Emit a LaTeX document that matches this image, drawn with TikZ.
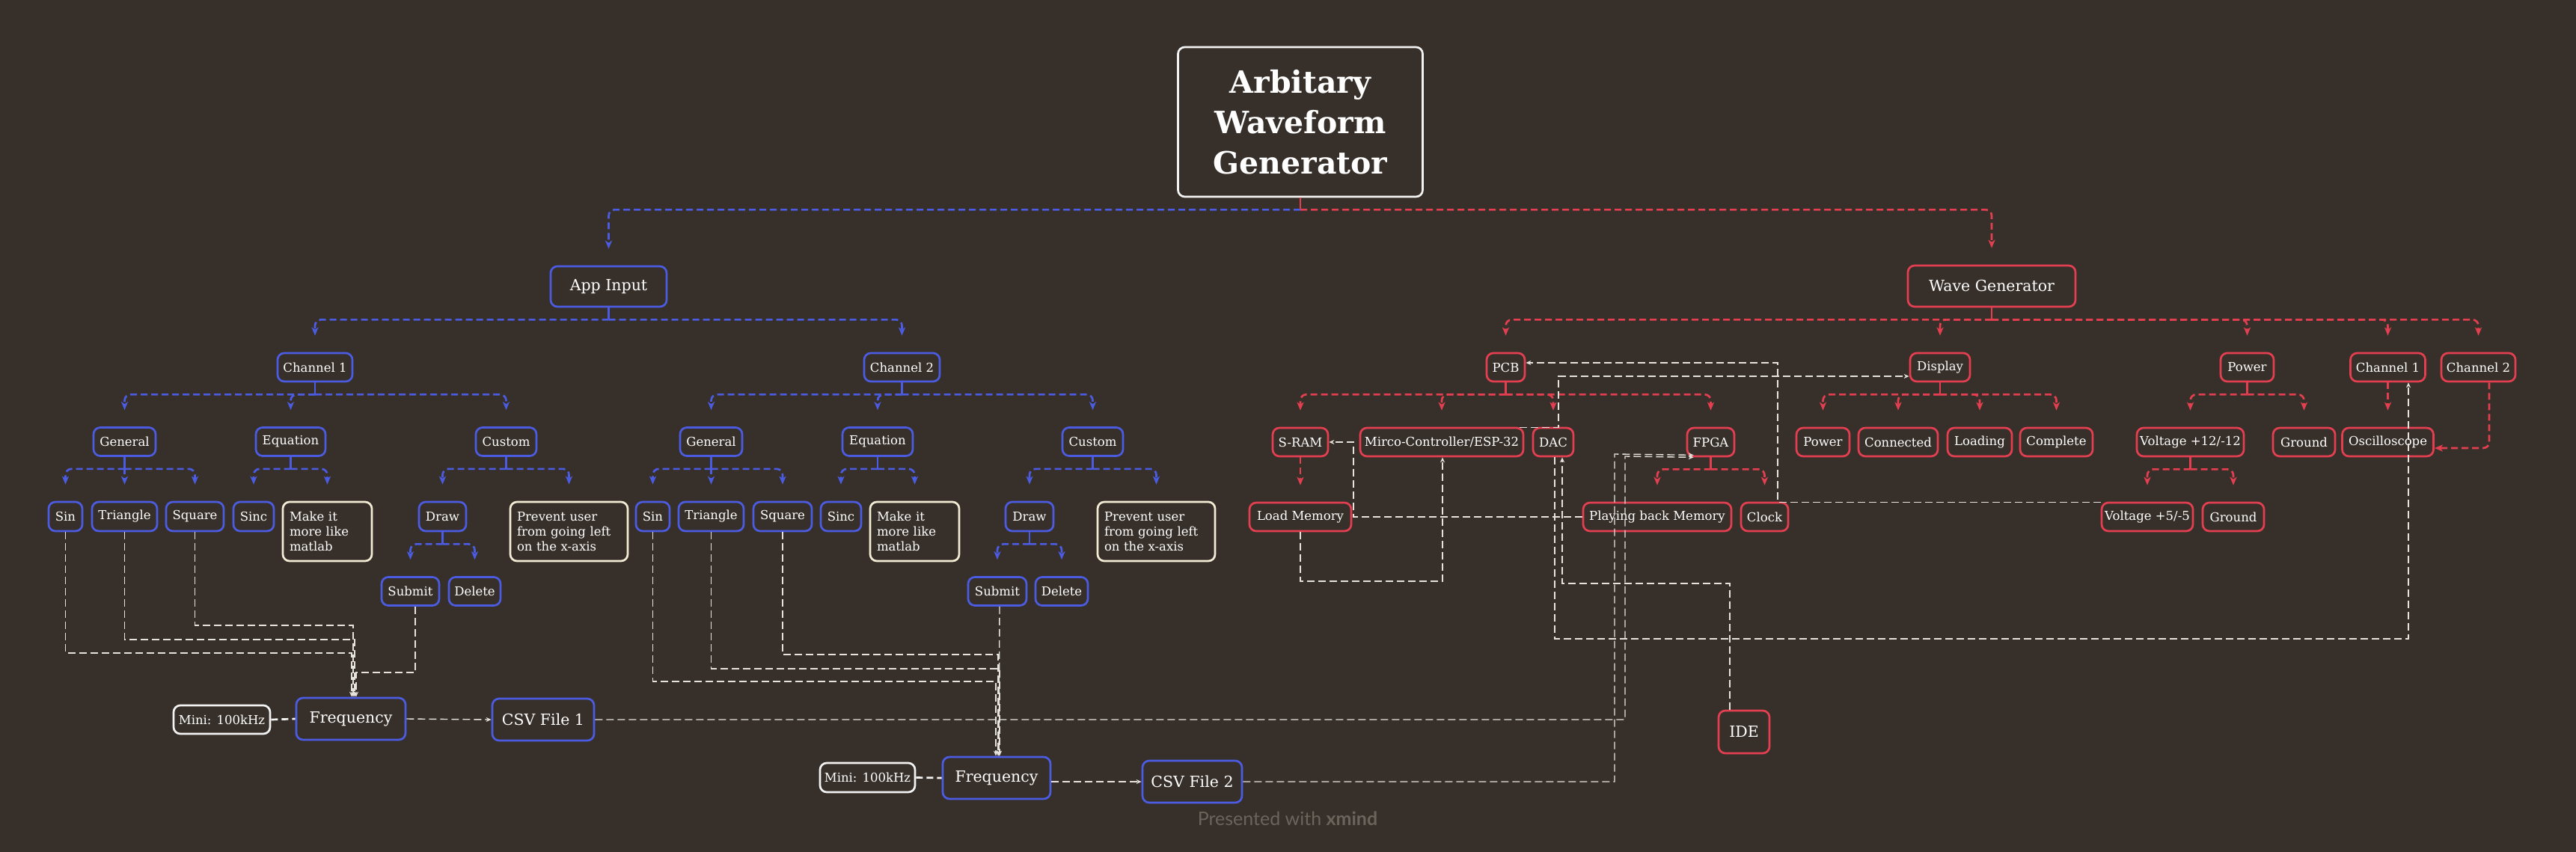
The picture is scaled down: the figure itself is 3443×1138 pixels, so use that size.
\documentclass[tikz,border=0pt]{standalone}
\usepackage{fontspec}
\setmainfont{DejaVu Serif}
\newfontfamily\wmfont{Lato}
\usetikzlibrary{arrows.meta,calc}
\definecolor{bgc}{HTML}{37302A}
\definecolor{bluec}{HTML}{4B5CE2}
\definecolor{redc}{HTML}{E33F50}
\definecolor{creamc}{HTML}{F3ECD4}
\definecolor{whitec}{HTML}{F2F2F2}
\definecolor{relc}{HTML}{E6E3DE}
\definecolor{txtc}{HTML}{FFFFFF}
\definecolor{wmc}{HTML}{6A645B}
\tikzset{
  box/.style={draw, line width=2.7pt, rounded corners=9pt, fill=bgc, text=txtc,
    inner sep=0pt, align=center, font=\fontsize{16.5}{20}\selectfont},
  bbox/.style={box, draw=bluec},
  rbox/.style={box, draw=redc},
  cbox/.style={box, draw=creamc, align=left},
  wbox/.style={box, draw=whitec},
  bigtext/.style={font=\fontsize{20.5}{24}\selectfont},
  stemline/.style={line width=2.7pt},
  treeline/.style={line width=2.7pt, dash pattern=on 9pt off 5pt, rounded corners=8pt,
    -{Stealth[length=11pt,width=9pt,inset=3pt]}},
  rel/.style={draw=relc, line width=1.4pt, dash pattern=on 10pt off 5pt,
    -{Stealth[length=7pt,width=6pt]}},
  thickrel/.style={draw=whitec, line width=2.7pt, dash pattern=on 9pt off 5pt},
}
\newcommand\nd[6]{\node[#1, minimum width=#4pt, minimum height=#5pt] (#2) at (#3) {#6};}
\newcommand\tedge[3]{%
  \draw[stemline,#1] (#2.south) -- ++(0,16);
  \draw[treeline,#1] ([yshift=-16pt]#2.south) -| ([yshift=22pt]#3.north);}
\newcommand\sedge[3]{%
  \draw[treeline,#1] (#2.south) -- ([yshift=22pt]#3.north);}
\begin{document}
\begin{tikzpicture}[x=1pt,y=-1pt]
\useasboundingbox (0,0) rectangle (3443,1138);
\fill[bgc] (-6,-6) rectangle (3449,1144);

% ---------- title ----------
\node[wbox, font=\fontsize{41}{54}\selectfont\bfseries, minimum width=327pt, minimum height=200pt]
  (title) at (1738,163) {Arbitary\\Waveform\\Generator};

% ---------- App Input side ----------
\nd{bbox,bigtext}{appin}{813.5,383}{155}{54}{App Input}
\nd{bbox}{ch1}{421,491}{100}{38}{Channel 1}
\nd{bbox}{ch2}{1205.5,491}{101}{38}{Channel 2}
\nd{bbox}{gen1}{166.5,590.5}{83}{38}{General}
\nd{bbox}{eq1}{388.5,590.5}{93}{38}{Equation}
\nd{bbox}{cus1}{676.5,590.5}{81}{38}{Custom}
\nd{bbox}{sin1}{87.5,690.5}{45}{39}{Sin}
\nd{bbox}{tri1}{166.5,690.5}{87}{39}{Triangle}
\nd{bbox}{sq1}{260.5,690.5}{77}{39}{Square}
\nd{bbox}{sinc1}{339,690.5}{54}{39}{Sinc}
\nd{cbox,text width=101pt}{mk1}{437.5,710.5}{119}{79}{Make it\\more like\\matlab}
\nd{bbox}{draw1}{591.5,690.5}{63}{39}{Draw}
\nd{cbox,text width=139pt}{pr1}{760.5,710.5}{157}{79}{Prevent user\\from going left\\on the x-axis}
\nd{bbox}{sub1}{548.5,790.5}{77}{38}{Submit}
\nd{bbox}{del1}{634.5,790.5}{69}{38}{Delete}

\nd{bbox}{gen2}{950.5,590.5}{83}{38}{General}
\nd{bbox}{eq2}{1173,590.5}{94}{38}{Equation}
\nd{bbox}{cus2}{1460.5,590.5}{81}{38}{Custom}
\nd{bbox}{sin2}{872.5,690.5}{45}{39}{Sin}
\nd{bbox}{tri2}{950.5,690.5}{87}{39}{Triangle}
\nd{bbox}{sq2}{1046,690.5}{78}{39}{Square}
\nd{bbox}{sinc2}{1124,690.5}{54}{39}{Sinc}
\nd{cbox,text width=101pt}{mk2}{1222.5,710.5}{119}{79}{Make it\\more like\\matlab}
\nd{bbox}{draw2}{1376,690.5}{64}{39}{Draw}
\nd{cbox,text width=139pt}{pr2}{1545.5,710.5}{157}{79}{Prevent user\\from going left\\on the x-axis}
\nd{bbox}{sub2}{1333,790.5}{78}{38}{Submit}
\nd{bbox}{del2}{1419,790.5}{70}{38}{Delete}

\nd{bbox,bigtext}{freq1}{469,961}{146}{56}{Frequency}
\nd{wbox}{mini1}{296.5,962}{129}{38}{Mini: 100kHz}
\nd{bbox,bigtext}{csv1}{726,962}{136}{56}{CSV File 1}
\nd{bbox,bigtext}{freq2}{1332,1040}{144}{56}{Frequency}
\nd{wbox}{mini2}{1159.5,1039.5}{127}{39}{Mini: 100kHz}
\nd{bbox,bigtext}{csv2}{1593.5,1045}{133}{56}{CSV File 2}

% ---------- Wave Generator side ----------
\nd{rbox,bigtext}{wg}{2662,382.5}{224}{55}{Wave Generator}
\nd{rbox}{pcb}{2012.5,491}{51}{38}{PCB}
\nd{rbox}{disp}{2593,491}{80}{38}{Display}
\nd{rbox}{pow}{3003.5,491}{71}{38}{Power}
\nd{rbox}{ch1w}{3191.5,491}{100}{38}{Channel 1}
\nd{rbox}{ch2w}{3312.5,491}{99}{38}{Channel 2}
\nd{rbox}{sram}{1738,591}{74}{38}{S-RAM}
\nd{rbox}{micro}{1927,591}{218}{38}{Mirco-Controller/ESP-32}
\nd{rbox}{dac}{2076,591}{54}{38}{DAC}
\nd{rbox}{fpga}{2286.5,591}{63}{38}{FPGA}
\nd{rbox}{powd}{2436.5,591}{71}{38}{Power}
\nd{rbox}{conn}{2537,591}{106}{38}{Connected}
\nd{rbox}{load}{2646,591}{86}{38}{Loading}
\nd{rbox}{comp}{2748.5,591}{97}{38}{Complete}
\nd{rbox}{v12}{2927.5,591}{143}{38}{Voltage +12/-12}
\nd{rbox}{gnd}{3079.5,591}{83}{38}{Ground}
\nd{rbox}{osc}{3191.5,591}{122}{38}{Oscilloscope}
\nd{rbox}{lmem}{1738,691}{136}{38}{Load Memory}
\nd{rbox}{play}{2215,691}{198}{38}{Playing back Memory}
\nd{rbox}{clock}{2358.5,691}{63}{38}{Clock}
\nd{rbox}{v5}{2870,691}{122}{38}{Voltage +5/-5}
\nd{rbox}{gnd2}{2985,691}{82}{38}{Ground}
\nd{rbox,bigtext}{ide}{2331,978.5}{68}{57}{IDE}

% ---------- tree edges ----------
\draw[stemline,redc] (title.south) -- ++(0,16);
\draw[treeline,bluec] ([yshift=-16pt]title.south) -| ([yshift=22pt]appin.north);
\draw[treeline,redc] ([yshift=-16pt]title.south) -| ([yshift=22pt]wg.north);

\tedge{bluec}{appin}{ch1}
\tedge{bluec}{appin}{ch2}
\tedge{bluec}{ch1}{gen1}
\tedge{bluec}{ch1}{eq1}
\tedge{bluec}{ch1}{cus1}
\tedge{bluec}{gen1}{sin1}
\draw[stemline,bluec] (gen1.south) -- ++(0,16);
\sedge{bluec}{gen1}{tri1}
\tedge{bluec}{gen1}{sq1}
\tedge{bluec}{eq1}{sinc1}
\tedge{bluec}{eq1}{mk1}
\tedge{bluec}{cus1}{draw1}
\tedge{bluec}{cus1}{pr1}
\tedge{bluec}{draw1}{sub1}
\tedge{bluec}{draw1}{del1}

\tedge{bluec}{ch2}{gen2}
\tedge{bluec}{ch2}{eq2}
\tedge{bluec}{ch2}{cus2}
\tedge{bluec}{gen2}{sin2}
\draw[stemline,bluec] (gen2.south) -- ++(0,16);
\sedge{bluec}{gen2}{tri2}
\tedge{bluec}{gen2}{sq2}
\tedge{bluec}{eq2}{sinc2}
\tedge{bluec}{eq2}{mk2}
\tedge{bluec}{cus2}{draw2}
\tedge{bluec}{cus2}{pr2}
\tedge{bluec}{draw2}{sub2}
\tedge{bluec}{draw2}{del2}

\tedge{redc}{wg}{pcb}
\tedge{redc}{wg}{disp}
\tedge{redc}{wg}{pow}
\tedge{redc}{wg}{ch1w}
\tedge{redc}{wg}{ch2w}
\tedge{redc}{pcb}{sram}
\tedge{redc}{pcb}{micro}
\tedge{redc}{pcb}{dac}
\tedge{redc}{pcb}{fpga}
\sedge{redc}{sram}{lmem}
\tedge{redc}{fpga}{play}
\tedge{redc}{fpga}{clock}
\tedge{redc}{disp}{powd}
\tedge{redc}{disp}{conn}
\tedge{redc}{disp}{load}
\tedge{redc}{disp}{comp}
\tedge{redc}{pow}{v12}
\tedge{redc}{pow}{gnd}
\tedge{redc}{v12}{v5}
\tedge{redc}{v12}{gnd2}
\sedge{redc}{ch1w}{osc}

% ---------- relationships ----------
\draw[rel] (sin1.south) |- (470,873) -- ($(freq1.north)+(1,0)$);
\draw[rel] (tri1.south) |- (474,855) -- ($(freq1.north)+(5,0)$);
\draw[rel] (sq1.south) |- (472,836) -- ($(freq1.north)+(3,0)$);
\draw[rel] ($(sub1.south)+(6.5,0)$) |- (476,899) -- ($(freq1.north)+(7,0)$);

\draw[rel] (sin2.south) |- (1331,911) -- ($(freq2.north)+(-1,0)$);
\draw[rel] (tri2.south) |- (1336,894) -- ($(freq2.north)+(4,0)$);
\draw[rel] (sq2.south) |- (1334,875) -- ($(freq2.north)+(2,0)$);
\draw[rel] ($(sub2.south)+(3,0)$) -- ($(freq2.north)+(3,0)$);

\draw[thickrel] (mini1.east) -- (freq1.west);
\draw[thickrel] (mini2.east) -- (freq2.west);
\draw[rel] (freq1.east) -- (csv1.west);
\draw[rel] (csv2.west -| freq2.east) -- (csv2.west);

\draw[rel] (csv1.east) -| (2172,610) -- ($(fpga.south west)+(10,0)$);
\draw[rel] (csv2.east) -| (2158,607) -- ($(fpga.south west)+(10,-3)$);

\draw[rel] ($(ide.north)+(-19,0)$) |- (2088,780) -- ($(dac.south)+(12,0)$);
\draw[rel] ($(dac.south)+(2,0)$) |- (3219,854) -- ($(ch1w.south)+(27.5,0)$);
\draw[rel] (lmem.south) |- (1928,777) -- ($(micro.south)+(1,0)$);
\draw[rel] (play.west) -| (1809,591) -- (sram.east);
\draw[rel] ($(micro.north east)+(-6,1)$) -| (2083,503) -- ($(disp.west)+(0,12)$);
\draw[rel] ($(v5.north west)+(0,1)$) -| (2376,485) -- ($(pcb.east)+(0,-6)$);

\draw[treeline,redc] ($(ch2w.south)+(14.5,0)$) |- ($(osc.east)+(0,8)$);

% ---------- watermark ----------
\node[font=\wmfont\fontsize{25}{30}\selectfont, text=wmc, inner sep=0pt] (wm) at (1721,1094)
  {Presented with \textbf{xmind}};
\end{tikzpicture}
\end{document}
